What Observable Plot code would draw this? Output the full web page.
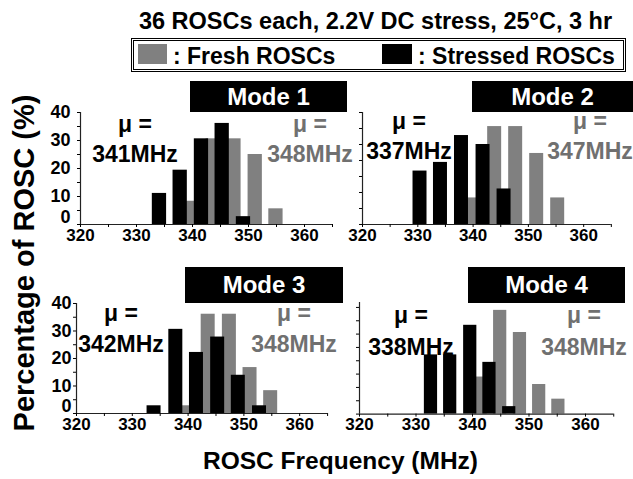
<!DOCTYPE html>
<html><head><meta charset="utf-8">
<script src="https://cdn.jsdelivr.net/npm/d3@7"></script>
<script src="https://cdn.jsdelivr.net/npm/@observablehq/plot@0.6"></script>
<style>
body{margin:0;background:#fff;}
#fig{position:relative;width:633px;height:479px;overflow:hidden;font-family:"Liberation Sans",Arial,sans-serif;font-weight:bold;color:#000;}
.t{position:absolute;white-space:nowrap;line-height:1;}
.box{position:absolute;background:#000;color:#fff;display:flex;align-items:center;justify-content:center;font-size:24px;}
svg{position:absolute;}
</style></head><body><div id="fig"></div>
<script>
// ---------- data ----------
const title = "36 ROSCs each, 2.2V DC stress, 25°C, 3 hr";
const seriesNames = ["Fresh ROSCs", "Stressed ROSCs"];
const modes = ["Mode 1", "Mode 2", "Mode 3", "Mode 4"];
const xTicks = [320, 330, 340, 350, 360];
const yTicks = [0, 10, 20, 30, 40];
const meanStressed = [341, 337, 342, 338];
const meanFresh = [348, 347, 348, 348];

const freshFreq1 = [339.9, 343.7, 347.4, 351.2, 354.9];
const freshPct1 = [8.3, 30.6, 30.6, 25.0, 5.6];
const stressedFreq1 = [334.1, 337.8, 341.6, 345.3, 349.1];
const stressedPct1 = [11.1, 19.4, 30.6, 36.1, 2.8];

const freshFreq2 = [340.1, 343.9, 347.7, 351.5, 355.3];
const freshPct2 = [8.3, 30.6, 30.6, 22.2, 8.3];
const stressedFreq2 = [330.4, 334.1, 337.9, 341.8, 345.6];
const stressedPct2 = [16.7, 19.4, 27.8, 25.0, 11.1];

const freshFreq3 = [339.8, 343.6, 347.4, 351.1, 354.8];
const freshPct3 = [2.8, 36.1, 36.1, 16.7, 8.3];
const stressedFreq3 = [333.9, 337.8, 341.5, 345.3, 349.0, 352.8];
const stressedPct3 = [2.8, 30.6, 22.2, 27.8, 13.9, 2.8];

const freshFreq4 = [341.45, 344.9, 348.4, 351.8, 355.2];
const freshPct4 = [13.9, 38.9, 30.6, 11.1, 5.6];
const stressedFreq4 = [332.65, 336.05, 339.6, 343.0, 346.5];
const stressedPct4 = [22.2, 22.2, 33.3, 19.4, 2.8];

// ---------- layout ----------
const FRESH = "#808080", STRESSED = "#000000", GRAYTXT = "#707070";
const panels = [
  {fresh:[freshFreq1,freshPct1], stressed:[stressedFreq1,stressedPct1], x0:80, k:5.6, y0:224, ytop:112, ymax:40, bw:2.55, labels:true, pad:10,
   box:[190,81,157,31], mS:[135,132], mF:[310,132], gap:30},
  {fresh:[freshFreq2,freshPct2], stressed:[stressedFreq2,stressedPct2], x0:362.3, k:5.53, y0:224, ytop:112, ymax:35, bw:2.53, labels:false, pad:6,
   box:[472,81,161,31], mS:[409,129], mF:[590,129], gap:30},
  {fresh:[freshFreq3,freshPct3], stressed:[stressedFreq3,stressedPct3], x0:76, k:5.58, y0:413.3, ytop:303.3, ymax:40, bw:2.51, labels:true, pad:5,
   box:[185,267,158,36], mS:[121,321], mF:[294,321], gap:31},
  {fresh:[freshFreq4,freshPct4], stressed:[stressedFreq4,stressedPct4], x0:359.3, k:5.65, y0:413.3, ytop:301.7, ymax:41.85, bw:2.34, labels:false, pad:6,
   box:[468,267,157,36], mS:[411,323], mF:[584,323], gap:32}
];

const fig = document.getElementById("fig");
function addText(txt, x, baseline, size, opts = {}) {
  const d = document.createElement("div");
  d.className = "t";
  d.textContent = txt;
  d.style.fontSize = size + "px";
  d.style.top = (baseline - 0.8465 * size) + "px";
  d.style.left = x + "px";
  if (opts.center) d.style.transform = "translateX(-50%)";
  if (opts.color) d.style.color = opts.color;
  fig.appendChild(d);
  return d;
}

panels.forEach((p, i) => {
  const ML = 48, MR = 6, MT = 6, MB = 32;
  const plotW = 45 * p.k, plotH = p.y0 - p.ytop;
  const width = ML + plotW + MR, height = MT + plotH + MB;
  const hw = p.bw / 2;
  const fresh = p.fresh[0].map((f, j) => ({f, v: p.fresh[1][j]}));
  const stressed = p.stressed[0].map((f, j) => ({f, v: p.stressed[1][j]}));
  const minorY = d3.range(0, p.ymax + 0.01, 5);
  const marks = [
    Plot.rectY(fresh, {x1: d => d.f - hw, x2: d => d.f + hw, y1: 0, y2: "v", fill: FRESH}),
    Plot.rectY(stressed, {x1: d => d.f - hw, x2: d => d.f + hw, y1: 0, y2: "v", fill: STRESSED}),
    Plot.ruleY([0], {stroke: "#222", strokeWidth: 1.2}),
    Plot.ruleX([320], {stroke: "#222", strokeWidth: 1.2}),
    Plot.axisX({ticks: d3.range(320, 366, 5), tickSize: 3, tickFormat: () => "", label: null}),
    Plot.axisX({ticks: xTicks, tickSize: 0, tickPadding: 4, fontSize: 17, label: null}),
    Plot.axisY({ticks: minorY, tickSize: 3, tickFormat: () => "", label: null})
  ];
  if (p.labels) {
    marks.push(Plot.axisY({ticks: yTicks.filter(t => t > 0), tickSize: 0, tickPadding: p.pad, fontSize: 18, label: null}));
    marks.push(Plot.axisY({ticks: [0], tickSize: 0, tickPadding: p.pad, fontSize: 18, dy: -7, label: null}));
  }
  const svg = Plot.plot({
    width, height,
    marginLeft: ML, marginRight: MR, marginTop: MT, marginBottom: MB,
    x: {domain: [320, 365]},
    y: {domain: [0, p.ymax]},
    style: {background: "transparent", overflow: "visible", fontFamily: '"Liberation Sans", Arial, sans-serif', fontWeight: "bold", fontSize: "17px", color: "#000"},
    marks
  });
  svg.style.left = (p.x0 - ML) + "px";
  svg.style.top = (p.ytop - MT) + "px";
  fig.appendChild(svg);

  // mode label box
  const b = document.createElement("div");
  b.className = "box";
  b.textContent = modes[i];
  b.style.left = p.box[0] + "px"; b.style.top = p.box[1] + "px";
  b.style.width = p.box[2] + "px"; b.style.height = p.box[3] + "px";
  fig.appendChild(b);

  // mean annotations
  addText("μ =", p.mS[0], p.mS[1], 23, {center: true});
  addText(meanStressed[i] + "MHz", p.mS[0], p.mS[1] + p.gap, 23, {center: true});
  addText("μ =", p.mF[0], p.mF[1], 23, {center: true, color: GRAYTXT});
  addText(meanFresh[i] + "MHz", p.mF[0], p.mF[1] + p.gap, 23, {center: true, color: GRAYTXT});
});

// title
addText(title, 375.5, 30, 23.5, {center: true});

// legend
const lg = document.createElement("div");
lg.style.cssText = "position:absolute;left:131px;top:38px;width:489px;height:28px;border:3px double #000;background:#fff;";
fig.appendChild(lg);
const sq1 = document.createElement("div");
sq1.style.cssText = `position:absolute;left:138px;top:44px;width:29px;height:20px;background:${FRESH};`;
fig.appendChild(sq1);
addText(": " + seriesNames[0], 173, 64, 23);
const sq2 = document.createElement("div");
sq2.style.cssText = `position:absolute;left:382px;top:44px;width:30px;height:20px;background:${STRESSED};`;
fig.appendChild(sq2);
addText(": " + seriesNames[1], 418, 64, 23);

// axis titles
addText("ROSC Frequency (MHz)", 340.5, 470, 24.5, {center: true});
const yt = document.createElement("div");
yt.className = "t";
yt.textContent = "Percentage of ROSC (%)";
yt.style.fontSize = "29px";
yt.style.left = "24px"; yt.style.top = "262.5px";
yt.style.transform = "translate(-50%,-50%) rotate(-90deg)";
fig.appendChild(yt);
</script></body></html>
